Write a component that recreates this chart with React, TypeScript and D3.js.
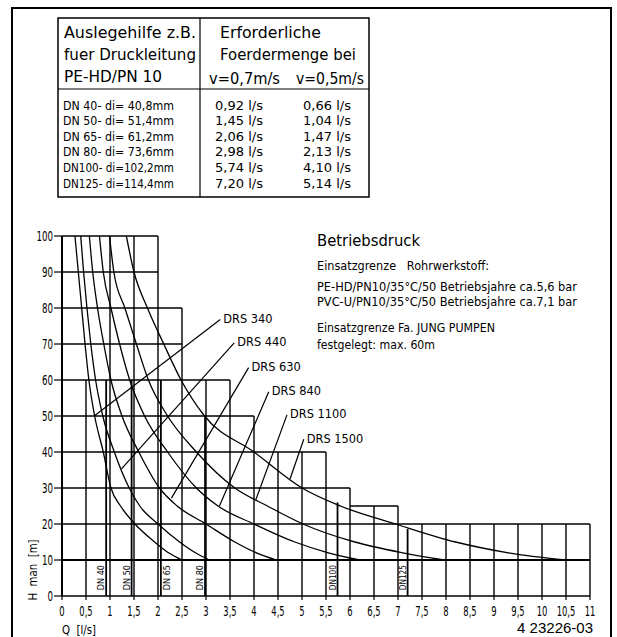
import React, { useEffect, useRef } from 'react';
import * as d3 from 'd3';

const WIDTH = 617;
const HEIGHT = 637;
const FONT = '"DejaVu Sans", Verdana, sans-serif';

// Auslegehilfe table
const tableHeadLeft = ['Auslegehilfe z.B.', 'fuer Druckleitung', 'PE-HD/PN 10'];
const tableHeadRight = ['Erforderliche', 'Foerdermenge bei'];
const tableSpeeds = ['v=0,7m/s', 'v=0,5m/s'];
const pipeRows = [
  'DN 40- di= 40,8mm',
  'DN 50- di= 51,4mm',
  'DN 65- di= 61,2mm',
  'DN 80- di= 73,6mm',
  'DN100- di=102,2mm',
  'DN125- di=114,4mm'
];
const flowAt07 = ['0,92 l/s', '1,45 l/s', '2,06 l/s', '2,98 l/s', '5,74 l/s', '7,20 l/s'];
const flowAt05 = ['0,66 l/s', '1,04 l/s', '1,47 l/s', '2,13 l/s', '4,10 l/s', '5,14 l/s'];

// Betriebsdruck notes
const noteTitle = 'Betriebsdruck';
const noteLines = [
  'Einsatzgrenze   Rohrwerkstoff:',
  'PE-HD/PN10/35°C/50 Betriebsjahre ca.5,6 bar',
  'PVC-U/PN10/35°C/50 Betriebsjahre ca.7,1 bar',
  'Einsatzgrenze Fa. JUNG PUMPEN',
  'festgelegt: max. 60m'
];

// axes
const qTicks = [0, 0.5, 1, 1.5, 2, 2.5, 3, 3.5, 4, 4.5, 5, 5.5, 6, 6.5, 7, 7.5, 8, 8.5, 9, 9.5, 10, 10.5, 11];
const qTickLabels = ['0', '0,5', '1', '1,5', '2', '2,5', '3', '3,5', '4', '4,5', '5', '5,5', '6', '6,5', '7', '7,5', '8', '8,5', '9', '9,5', '10', '10,5', '11'];
const hTicks = [0, 10, 20, 30, 40, 50, 60, 70, 80, 90, 100];
const hTickLabels = ['0', '10', '20', '30', '40', '50', '60', '70', '80', '90', '100'];

// staircase grid: top of each vertical (per qTick) and horizontal levels
const gridTop = [100, 60, 100, 100, 100, 80, 60, 60, 50, 40, 40, 40, 30, 25, 25, 20, 20, 20, 20, 20, 20, 20, 20];
const levels = [100, 90, 80, 70, 60, 50, 40, 30, 25, 20, 10, 0];
const levelFrom = [0, 0, 0, 0, 0, 0, 0, 0, 6, 0, 0, 0];
const levelTo = [2, 2, 2.5, 2.5, 3.5, 4, 5.5, 6, 7, 11, 11, 11];

// pipe size markers (v = 0,7 m/s)
const dnNames = ['DN 40', 'DN 50', 'DN 65', 'DN 80', 'DN100', 'DN125'];
const dnFlow = [0.92, 1.45, 2.06, 2.98, 5.74, 7.2];
const dnTop = [60, 60, 60, 50, 26, 18.6];
const dnSide = [-1, -1, 1, -1, -1, -1];

// DRS curves [Q l/s, H m]
const drs340 = [[0.27, 100], [0.34, 90], [0.41, 80], [0.48, 70], [0.56, 60], [0.68, 50], [0.86, 40], [1.02, 30], [1.22, 25], [1.52, 20], [1.93, 15], [2.22, 12], [2.5, 10]];
const drs440 = [[0.39, 100], [0.45, 90], [0.52, 80], [0.6, 70], [0.7, 60], [0.85, 50], [1.09, 40], [1.4, 30], [1.62, 25], [2.0, 20], [2.45, 15], [2.78, 12], [3.07, 10]];
const drs630 = [[0.57, 100], [0.64, 90], [0.74, 80], [0.87, 70], [1.02, 60], [1.25, 50], [1.6, 40], [2.03, 30], [2.4, 25], [3.0, 20], [3.6, 15], [4.05, 12], [4.47, 10]];
const drs840 = [[0.78, 100], [0.86, 90], [1.02, 80], [1.2, 70], [1.41, 60], [1.72, 50], [2.2, 40], [2.8, 30], [3.25, 25], [4.0, 20], [4.85, 15], [5.55, 12], [6.2, 10]];
const drs1100 = [[0.99, 100], [1.08, 90], [1.31, 80], [1.55, 70], [1.8, 60], [2.2, 50], [2.8, 40], [3.6, 30], [4.28, 25], [5.02, 20], [6.1, 15], [7.1, 12], [7.96, 10]];
const drs1500 = [[1.34, 100], [1.5, 90], [1.78, 80], [2.12, 70], [2.48, 60], [2.97, 50], [4.0, 40], [5.0, 30], [5.8, 25], [6.95, 20], [8.2, 15], [9.3, 12], [10.5, 10]];
const drsNames = ['DRS 340', 'DRS 440', 'DRS 630', 'DRS 840', 'DRS 1100', 'DRS 1500'];

// leader annotations (data coords)
const drsLabelAt = [[3.36, 77.1], [3.65, 70.6], [3.95, 63.7], [4.37, 57.0], [4.75, 50.6], [5.1, 43.8]];
const drsTip = [[0.67, 50], [1.24, 35.3], [2.28, 27.2], [3.28, 25], [4.04, 26.8], [4.75, 32.5]];

const drawingNo = '4 23226-03';

function draw(svg) {
  const x = d3.scaleLinear().domain([0, 11]).range([62, 590]);
  const y = d3.scaleLinear().domain([0, 100]).range([596, 236]);

  const text = (g, s, px, py, size, opts: any = {}) => {
    const t = g.append('text')
      .attr('transform', `translate(${px},${py})${opts.rotate ? ` rotate(${opts.rotate})` : ''} scale(${opts.sx || 1},1)`)
      .attr('font-size', size)
      .attr('font-family', opts.family || FONT)
      .attr('text-anchor', opts.anchor || 'start')
      .attr('letter-spacing', opts.ls || 0)
      .attr('fill', '#000')
      .style('white-space', 'pre')
      .text(s);
    if (opts.tl) t.attr('textLength', opts.tl).attr('lengthAdjust', 'spacingAndGlyphs');
    return t;
  };

  // outer frame
  svg.append('path')
    .attr('d', `M12,${HEIGHT} V8 H611 V${HEIGHT}`)
    .attr('fill', 'none')
    .attr('stroke', '#000')
    .attr('stroke-width', 2);

  // table
  const tbl = svg.append('g').attr('class', 'table');
  tbl.append('rect')
    .attr('x', 58).attr('y', 18).attr('width', 311).attr('height', 179)
    .attr('fill', 'none').attr('stroke', '#000').attr('stroke-width', 1.5);
  tbl.append('line').attr('x1', 58).attr('x2', 369).attr('y1', 89).attr('y2', 89)
    .attr('stroke', '#000').attr('stroke-width', 1.2);
  tbl.append('line').attr('x1', 200).attr('x2', 200).attr('y1', 18).attr('y2', 197)
    .attr('stroke', '#000').attr('stroke-width', 1.2);

  const headY = [38, 60, 82];
  const headLeftLen = [132, 132, 98];
  const headRightLen = [101, 136];
  tableHeadLeft.forEach((s, i) => text(tbl, s, 64, headY[i], 16, { tl: headLeftLen[i] }));
  tableHeadRight.forEach((s, i) => text(tbl, s, 220, headY[i], 16, { tl: headRightLen[i] }));
  text(tbl, tableSpeeds[0], 209, 84, 16, { tl: 71 });
  text(tbl, tableSpeeds[1], 296, 84, 16, { tl: 68 });

  pipeRows.forEach((s, i) => {
    const by = 109.5 + i * 15.6;
    text(tbl, s, 63, by, 11.5, { tl: 111 });
    text(tbl, flowAt07[i], 215, by, 11.5, { tl: 48 });
    text(tbl, flowAt05[i], 303, by, 11.5, { tl: 48 });
  });

  // notes
  const notesG = svg.append('g').attr('class', 'notes');
  text(notesG, noteTitle, 317, 245.5, 15, { tl: 103 });
  const noteY = [269.5, 291, 306, 331.5, 349];
  const noteLen = [172, 260, 260, 178, 118];
  noteLines.forEach((s, i) => text(notesG, s, 317, noteY[i], 11.5, { tl: noteLen[i] }));

  const chart = svg.append('g').attr('class', 'chart');

  // horizontal grid
  chart.append('g').selectAll('line')
    .data(levels)
    .enter().append('line')
    .attr('x1', (d, i) => x(levelFrom[i]))
    .attr('x2', (d, i) => x(levelTo[i]))
    .attr('y1', d => y(d))
    .attr('y2', d => y(d))
    .attr('stroke', '#000')
    .attr('stroke-width', d => (d === 10 ? 2 : 1.4));

  // vertical grid
  chart.append('g').selectAll('line')
    .data(qTicks)
    .enter().append('line')
    .attr('x1', d => x(d))
    .attr('x2', d => x(d))
    .attr('y1', y(0))
    .attr('y2', (d, i) => y(gridTop[i]))
    .attr('stroke', '#000')
    .attr('stroke-width', d => (d === 0 ? 2 : 1.4));

  // DN markers
  const dn = chart.append('g').attr('class', 'dn');
  dn.selectAll('line')
    .data(dnFlow)
    .enter().append('line')
    .attr('x1', d => x(d))
    .attr('x2', d => x(d))
    .attr('y1', y(0))
    .attr('y2', (d, i) => y(dnTop[i]))
    .attr('stroke', '#000')
    .attr('stroke-width', 1.8);
  dnNames.forEach((s, i) => {
    const px = x(dnFlow[i]) + dnSide[i] * 5.5 + 3.5;
    text(dn, s, px, y(5.1), 9.5, { rotate: -90, anchor: 'middle', tl: 25 });
  });

  // curves
  const line = d3.line()
    .x(d => x(d[0]))
    .y(d => y(d[1]))
    .curve(d3.curveMonotoneX);
  chart.append('g').selectAll('path')
    .data([drs340, drs440, drs630, drs840, drs1100, drs1500])
    .enter().append('path')
    .attr('d', line)
    .attr('fill', 'none')
    .attr('stroke', '#000')
    .attr('stroke-width', 1.3);

  // leaders and labels
  const lead = chart.append('g').attr('class', 'leaders');
  drsNames.forEach((s, i) => {
    const lx = x(drsLabelAt[i][0]);
    const ly = y(drsLabelAt[i][1]);
    lead.append('line')
      .attr('x1', lx - 3).attr('y1', ly + 1)
      .attr('x2', x(drsTip[i][0])).attr('y2', y(drsTip[i][1]))
      .attr('stroke', '#000')
      .attr('stroke-width', 1.2);
    text(lead, s, lx, ly + 4.5, 12, { sx: 0.95 });
  });

  // axes ticks and labels
  const ax = svg.append('g').attr('class', 'axes');
  ax.selectAll('.yt')
    .data(hTicks)
    .enter().append('line')
    .attr('x1', 54).attr('x2', 62)
    .attr('y1', d => y(d)).attr('y2', d => y(d))
    .attr('stroke', '#000').attr('stroke-width', 1.2);
  hTicks.forEach((d, i) => text(ax, hTickLabels[i], 53, y(d) + 5, 14, { anchor: 'end', sx: 0.62 }));

  ax.selectAll('.xt')
    .data(qTicks)
    .enter().append('line')
    .attr('x1', d => x(d)).attr('x2', d => x(d))
    .attr('y1', y(0)).attr('y2', y(0) + 4)
    .attr('stroke', '#000').attr('stroke-width', 1.2);
  qTicks.forEach((d, i) => text(ax, qTickLabels[i], x(d), 616, 14, { anchor: 'middle', sx: 0.6 }));

  text(ax, 'Q  [l/s]', 62, 634, 12, { sx: 0.85 });
  text(ax, 'H  man  [m]', 37, 570, 12, { rotate: -90, anchor: 'middle', sx: 0.85 });

  text(svg, drawingNo, 593, 633, 15, { anchor: 'end', family: '"Liberation Sans", Arial, sans-serif' });
}

export default function App() {
  const ref = useRef<SVGSVGElement>(null);

  useEffect(() => {
    const svg = d3.select(ref.current);
    svg.selectAll('*').remove();
    draw(svg);
  }, []);

  return (
    <svg
      ref={ref}
      width={WIDTH}
      height={HEIGHT}
      style={{ position: 'absolute', left: 0, top: 0, background: '#fff', display: 'block' }}
    />
  );
}
